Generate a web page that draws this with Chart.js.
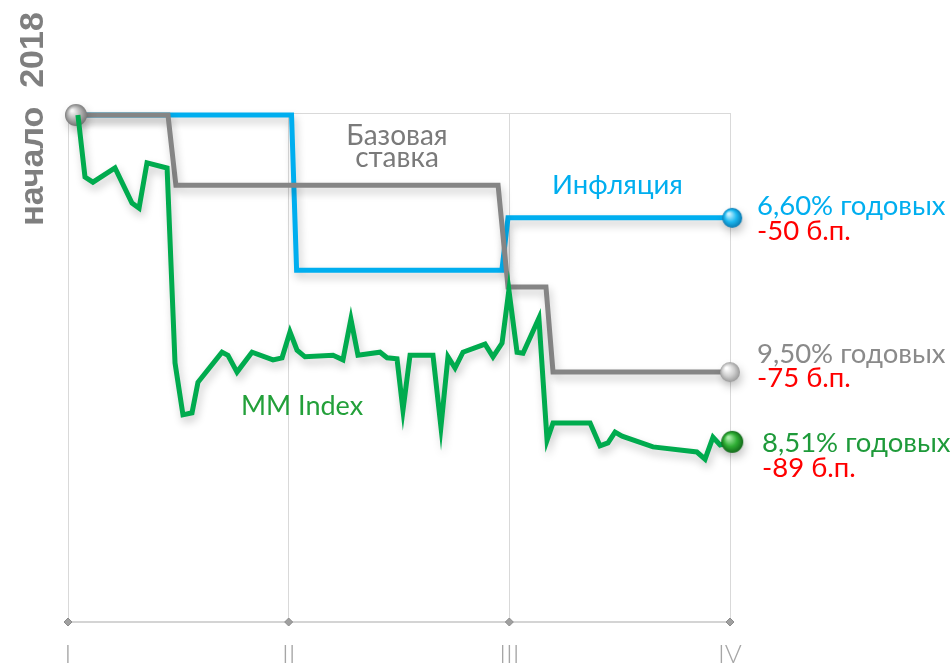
<!DOCTYPE html>
<html>
<head>
<meta charset="utf-8">
<script src="https://cdn.jsdelivr.net/npm/chart.js@4.4.1/dist/chart.umd.min.js"></script>
<style>
  html, body { margin: 0; padding: 0; background: #fff; }
  #wrap { width: 950px; height: 664px; position: relative; }
</style>
</head>
<body>
<div id="wrap"><canvas id="rateChart"></canvas></div>
<script>
// кварталы (ось X)
const quarterLabels = ['I', 'II', 'III', 'IV'];

// изменение относительно начала 2018 (условные единицы, 0 = старт)
const baseRateX = [0.036, 0.453, 0.489, 1.949, 1.994, 2.166, 2.198, 3.0];
const baseRateY = [0, 0, -13.8, -13.8, -33.8, -33.8, -50.5, -50.5];

const inflationX = [0.036, 1.013, 1.036, 1.966, 1.994, 3.01];
const inflationY = [0, 0, -30.5, -30.5, -20.2, -20.2];

const mmIndexX = [0.045, 0.077, 0.113, 0.213, 0.290, 0.322, 0.358, 0.449, 0.485, 0.521,
  0.562, 0.589, 0.698, 0.725, 0.766, 0.834, 0.929, 0.970, 1.006, 1.038,
  1.074, 1.201, 1.246, 1.282, 1.314, 1.414, 1.446, 1.491, 1.518, 1.550,
  1.654, 1.690, 1.722, 1.754, 1.790, 1.890, 1.926, 1.967, 1.998, 2.035,
  2.062, 2.134, 2.171, 2.198, 2.366, 2.411, 2.447, 2.479, 2.511, 2.651,
  2.850, 2.887, 2.923, 2.955, 3.01];
const mmIndexY = [0, -12.2, -13.2, -10.4, -17.3, -18.3, -9.4, -10.4, -48.7, -58.9,
  -58.5, -52.5, -46.6, -47.2, -50.5, -46.6, -48.1, -47.7, -42.6, -46.2,
  -47.5, -47.2, -48.1, -40.1, -47.2, -46.6, -47.7, -47.9, -58.0, -47.2,
  -47.2, -61.3, -47.5, -49.7, -46.6, -45.0, -47.5, -44.8, -34.4, -46.6,
  -46.8, -39.9, -63.9, -60.5, -60.5, -65.0, -64.4, -62.3, -63.1, -65.2,
  -66.2, -67.6, -63.3, -64.8, -64.2];

// подписи справа
const endRates = ['6,60% годовых', '9,50% годовых', '8,51% годовых'];
const endChanges = ['-50 б.п.', '-75 б.п.', '-89 б.п.'];

const Y_MIN = -99.6;
const Y_MAX = 0.4;

const BLUE = '#00aeef';
const GRAY = '#858585';
const GREEN = '#00ab4e';

function toPoints(xs, ys) {
  return xs.map((x, i) => ({ x: x, y: ys[i] }));
}

// шарик для концов линий
function makeSphere(r, light, mid, dark) {
  const c = document.createElement('canvas');
  c.width = c.height = r * 2 + 2;
  const g = c.getContext('2d');
  const cx = r + 1, cy = r + 1;
  const grad = g.createRadialGradient(cx - r * 0.35, cy - r * 0.4, r * 0.1, cx, cy, r);
  grad.addColorStop(0, light);
  grad.addColorStop(0.55, mid);
  grad.addColorStop(1, dark);
  g.fillStyle = grad;
  g.beginPath();
  g.arc(cx, cy, r, 0, Math.PI * 2);
  g.fill();
  return c;
}

const sphereGray = makeSphere(11, '#f4f4f4', '#b3b3b3', '#7a7a7a');
const sphereGrayEnd = makeSphere(10, '#ffffff', '#cfcfcf', '#9a9a9a');
const sphereBlue = makeSphere(10, '#c8f2ff', '#1cb8f0', '#0a79b0');
const sphereGreen = makeSphere(11, '#a8eba8', '#2fae34', '#12691a');

function endPoint(first, last) {
  return {
    pointRadius: (c) => {
      const n = c.dataset.data.length;
      if (first && c.dataIndex === 0) return 10;
      if (last && c.dataIndex === n - 1) return 10;
      return 0;
    },
    pointStyle: (c) => {
      const n = c.dataset.data.length;
      if (c.dataIndex === 0 && first) return first;
      if (c.dataIndex === n - 1 && last) return last;
      return 'circle';
    },
  };
}

// мягкая тень под линиями
const shadowPlugin = {
  id: 'shadow',
  beforeDatasetDraw(chart, args) {
    const ctx = chart.ctx;
    ctx.save();
    if (args.index === 3) return;
    ctx.shadowColor = 'rgba(0,0,0,0.22)';
    ctx.shadowBlur = 9;
    ctx.shadowOffsetX = 2;
    ctx.shadowOffsetY = 5;
  },
  afterDatasetDraw(chart) {
    chart.ctx.restore();
  },
};

// все подписи
const textPlugin = {
  id: 'texts',
  afterDraw(chart) {
    const ctx = chart.ctx;
    const xs = chart.scales.x;
    const ys = chart.scales.y;
    ctx.save();

    // начало 2018
    ctx.save();
    ctx.translate(43, 119);
    ctx.rotate(-Math.PI / 2);
    ctx.font = 'bold 34px "Liberation Sans", Arial, sans-serif';
    ctx.fillStyle = '#7f7f7f';
    ctx.textAlign = 'center';
    ctx.textBaseline = 'alphabetic';
    ctx.fillText('начало  2018', 0, 0);
    ctx.restore();

    ctx.textBaseline = 'alphabetic';
    ctx.textAlign = 'center';
    ctx.font = '28px Lato, "Open Sans", sans-serif';
    ctx.fillStyle = '#7a7a7a';
    ctx.fillText('Базовая', 397, 145);
    ctx.fillText('ставка', 397, 167);

    ctx.fillStyle = BLUE;
    ctx.font = '27.5px Lato, "Open Sans", sans-serif';
    ctx.textAlign = 'left';
    ctx.fillText('Инфляция', 552, 194);

    ctx.fillStyle = '#23a03a';
    ctx.font = '27px Lato, "Open Sans", sans-serif';
    ctx.fillText('MM Index', 241, 415);

    // справа
    const right = xs.right;
    const rows = [
      { y: inflationY[inflationY.length - 1], color: BLUE, dx: 27, dy1: -3, dy2: 22 },
      { y: baseRateY[baseRateY.length - 1], color: '#8a8a8a', dx: 27, dy1: -9, dy2: 15 },
      { y: mmIndexY[mmIndexY.length - 1], color: '#1e9a3a', dx: 32, dy1: 10, dy2: 35 },
    ];
    rows.forEach((r, i) => {
      const py = ys.getPixelForValue(r.y);
      ctx.font = '27.5px Lato, "Open Sans", sans-serif';
      ctx.fillStyle = r.color;
      ctx.fillText(endRates[i], right + r.dx, py + r.dy1);
      ctx.fillStyle = '#ff0000';
      ctx.font = '27.5px Lato, "Open Sans", sans-serif';
      ctx.fillText(endChanges[i], right + r.dx, py + r.dy2);
    });
    ctx.restore();
  },
};

const ctx = document.getElementById('rateChart').getContext('2d');
const chart = new Chart(ctx, {
  type: 'scatter',
  data: {
    datasets: [
      Object.assign({
        label: 'MM Index',
        data: toPoints(mmIndexX, mmIndexY),
        showLine: true,
        borderColor: GREEN,
        borderWidth: 5,
        backgroundColor: GREEN,
        tension: 0,
        clip: false,
      }, endPoint(null, sphereGreen)),
      Object.assign({
        label: 'Базовая ставка',
        data: toPoints(baseRateX, baseRateY),
        showLine: true,
        borderColor: GRAY,
        borderWidth: 5,
        backgroundColor: GRAY,
        tension: 0,
        clip: false,
      }, endPoint(sphereGray, sphereGrayEnd)),
      Object.assign({
        label: 'Инфляция',
        data: toPoints(inflationX, inflationY),
        showLine: true,
        borderColor: BLUE,
        borderWidth: 5,
        backgroundColor: BLUE,
        tension: 0,
        clip: false,
      }, endPoint(null, sphereBlue)),
      {
        label: 'ticks',
        data: quarterLabels.map((q, i) => ({ x: i, y: Y_MIN })),
        showLine: false,
        pointStyle: 'rectRot',
        pointRadius: 4,
        backgroundColor: '#a0a0a0',
        borderColor: '#8c8c8c',
        borderWidth: 1,
        clip: false,
      },
    ],
  },
  options: {
    responsive: true,
    maintainAspectRatio: false,
    animation: false,
    layout: {
      padding: { left: 68, right: 220, top: 113, bottom: 0 },
    },
    plugins: {
      legend: { display: false },
      tooltip: { enabled: false },
    },
    elements: {
      line: { borderJoinStyle: 'miter' },
    },
    scales: {
      x: {
        type: 'linear',
        min: 0,
        max: 3,
        afterBuildTicks: (axis) => {
          axis.ticks = quarterLabels.map((q, i) => ({ value: i }));
        },
        afterFit: (axis) => {
          axis.height = 42;
        },
        ticks: {
          callback: (v) => quarterLabels[v],
          color: '#a6a6a6',
          padding: 20,
          font: { family: 'Lato, "Open Sans", sans-serif', size: 26, weight: 300, lineHeight: 1 },
        },
        grid: { color: '#d9d9d9', lineWidth: 1, drawTicks: false },
        border: { color: '#d4d4d4', width: 2 },
      },
      y: {
        min: Y_MIN,
        max: Y_MAX,
        afterBuildTicks: (axis) => {
          axis.ticks = [{ value: Y_MAX }];
        },
        ticks: { display: false },
        grid: { color: '#d9d9d9', lineWidth: 1, drawTicks: false },
        border: { display: false },
      },
    },
  },
  plugins: [shadowPlugin, textPlugin],
});
</script>
</body>
</html>
